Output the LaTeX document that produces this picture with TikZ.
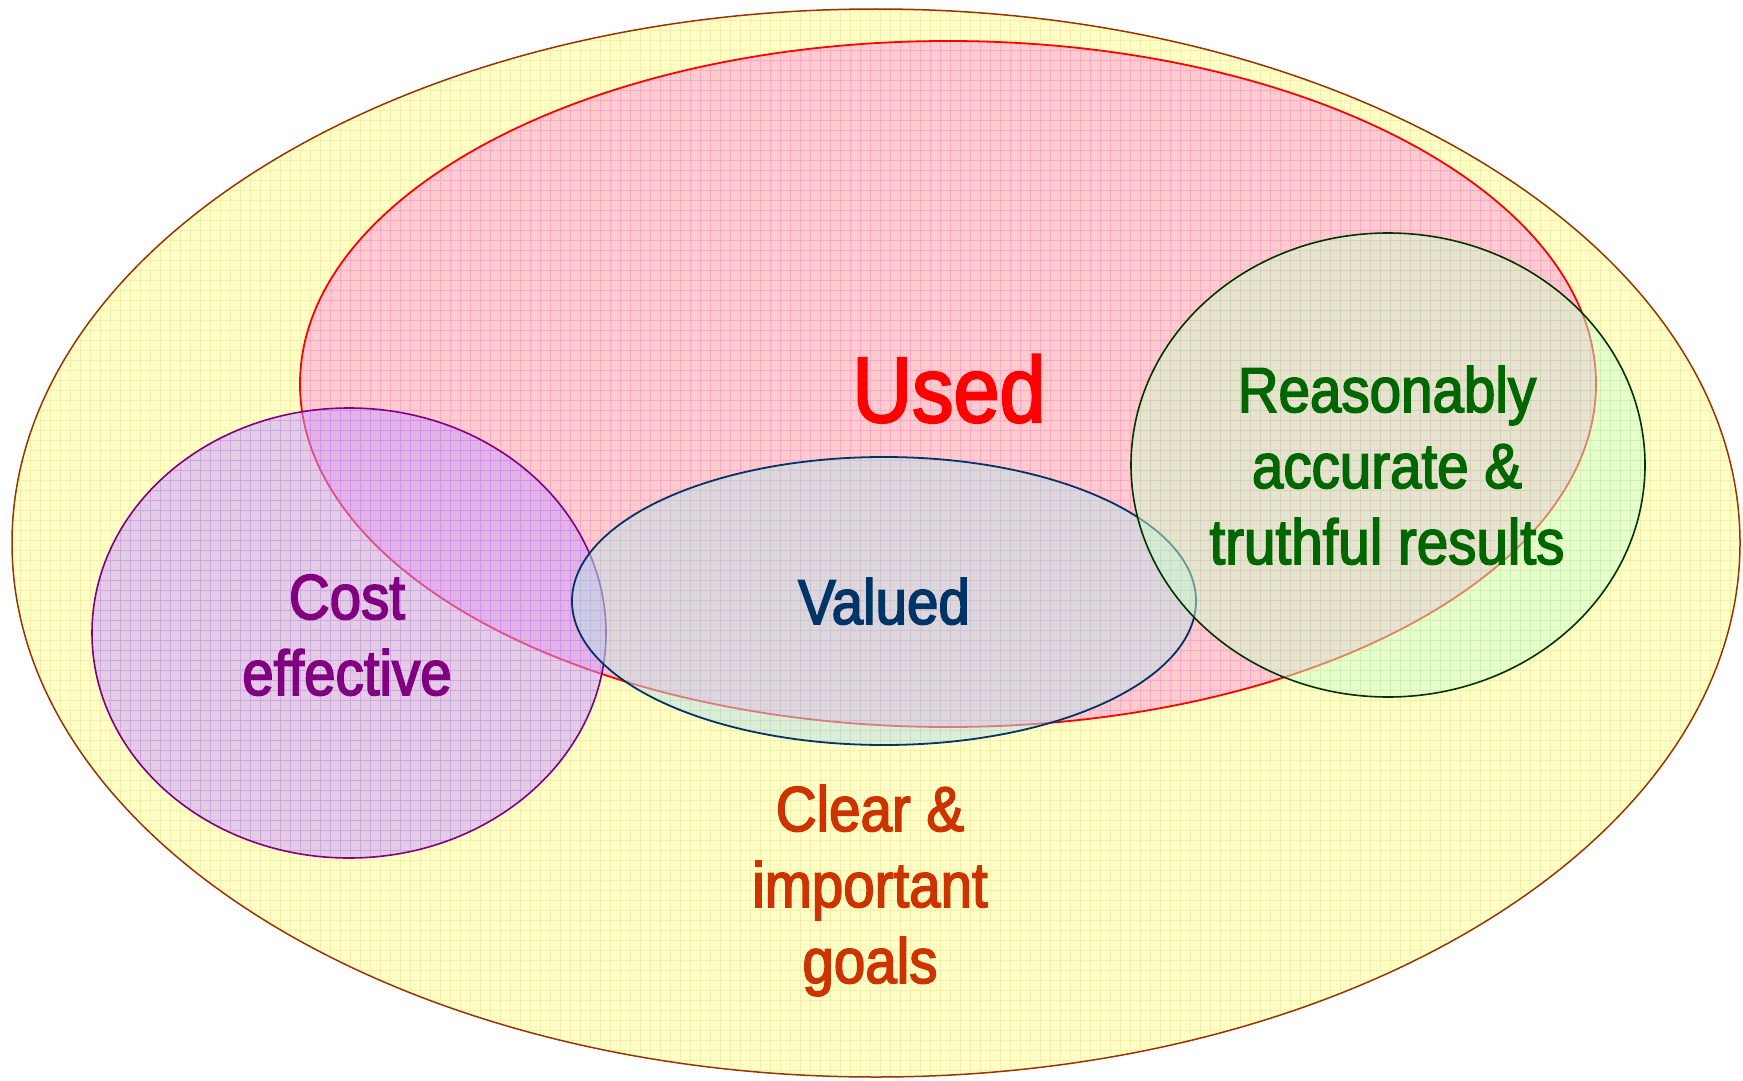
\documentclass[tikz,border=0pt]{standalone}
\usepackage{fontspec}
\setmainfont{Liberation Sans}[FakeStretch=0.89,FakeBold=2.5]
\definecolor{yfill}{HTML}{FFFFC8}
\definecolor{ygrid}{HTML}{F4EEA8}
\definecolor{yborder}{HTML}{993300}
\definecolor{rfill}{HTML}{FFCCCC}
\definecolor{rgrid}{HTML}{FFA6CC}
\definecolor{pfill}{HTML}{CC99FF}
\definecolor{pborder}{HTML}{800080}
\definecolor{vfill}{HTML}{BEE1E6}
\definecolor{vborder}{HTML}{003366}
\definecolor{gfill}{HTML}{CCFFCC}
\definecolor{gborder}{HTML}{003300}
\definecolor{tused}{HTML}{FF0000}
\definecolor{tvalued}{HTML}{003366}
\definecolor{treason}{HTML}{006600}
\definecolor{tcost}{HTML}{800080}
\definecolor{tclear}{HTML}{CC3300}
\begin{document}
\begin{tikzpicture}[x=1pt,y=-1pt,
  lbl/.style={inner sep=0pt, align=center, anchor=base,
    font=\fontsize{63.5}{76}\selectfont},
  gridlines/.style={step=10pt, line width=0.7pt}]
\useasboundingbox (0,0) rectangle (1743,1081);

% outer yellow ellipse
\begin{scope}
  \clip (876,543) ellipse [x radius=864, y radius=534];
  \fill[yfill] (0,0) rectangle (1743,1081);
  \draw[gridlines, ygrid] (0,0) grid (1743,1081);
\end{scope}
\draw[yborder, line width=1.5pt] (876,543) ellipse [x radius=864, y radius=534];

% red "Used" ellipse
\begin{scope}
  \clip (948,384) ellipse [x radius=648, y radius=343];
  \fill[rfill] (0,0) rectangle (1743,1081);
  \draw[gridlines, rgrid] (0,0) grid (1743,1081);
\end{scope}
\draw[red, line width=1.8pt] (948,384) ellipse [x radius=648, y radius=343];

% purple "Cost effective" ellipse
\begin{scope}
  \clip (349,633) ellipse [x radius=257, y radius=225];
  \fill[pfill, opacity=0.5] (0,0) rectangle (1743,1081);
  \draw[gridlines, pfill!80!blue, opacity=0.35] (0,0) grid (1743,1081);
\end{scope}
\draw[pborder, line width=1.6pt] (349,633) ellipse [x radius=257, y radius=225];

% blue "Valued" ellipse
\begin{scope}
  \clip (884,601) ellipse [x radius=312, y radius=144];
  \fill[vfill, opacity=0.55] (0,0) rectangle (1743,1081);
  \draw[gridlines, vfill!70!black, opacity=0.12] (0,0) grid (1743,1081);
\end{scope}
\draw[vborder, line width=1.8pt] (884,601) ellipse [x radius=312, y radius=144];

% green "Reasonably" ellipse
\begin{scope}
  \clip (1388,465) ellipse [x radius=257, y radius=232];
  \fill[gfill, opacity=0.5] (0,0) rectangle (1743,1081);
  \draw[gridlines, gfill!70!black, opacity=0.12] (0,0) grid (1743,1081);
\end{scope}
\draw[gborder, line width=1.6pt] (1388,465) ellipse [x radius=257, y radius=232];

% labels (base anchor = baseline of the last line)
\node[lbl, text=tused, font=\fontsize{93}{110}\selectfont] (used) at (949,422) {Used};
\node[lbl, text=tvalued] (valued) at (884,624) {Valued};
\node[lbl, text=treason] (reason) at (1387,564) {Reasonably\\accurate \&\\truthful results};
\node[lbl, text=tcost] (cost) at (347,695) {Cost\\effective};
\node[lbl, text=tclear] (clear) at (870,983) {Clear \&\\important\\goals};
\end{tikzpicture}
\end{document}
